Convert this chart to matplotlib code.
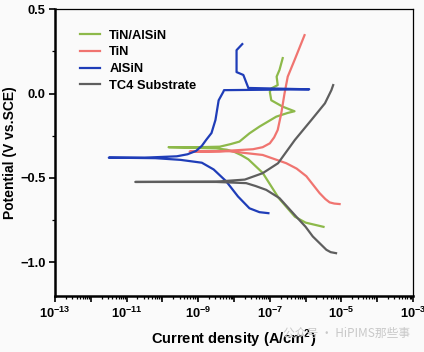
import matplotlib
matplotlib.use("Agg")
import matplotlib.pyplot as plt
import matplotlib.ticker as mticker
import numpy as np

plt.rcParams['font.family'] = ['Liberation Sans', 'DejaVu Sans']
plt.rcParams['mathtext.fontset'] = 'custom'
plt.rcParams['mathtext.rm'] = 'Liberation Sans'
plt.rcParams['mathtext.bf'] = 'Liberation Sans:bold'

# log10 of current density (A/cm^2) and potential (V vs SCE)
labels = ["TiN/AlSiN", "TiN", "AlSiN", "TC4 Substrate"]
colors = ["#8DB94A", "#F07470", "#1F3DB8", "#5E5E5E"]

tin_alsin_logi = [-5.5, -6.0, -6.3, -6.75, -7.2, -7.6, -7.8, -8.0, -8.2, -8.5, -9.83,
                  -9.0, -8.4, -8.1, -7.85, -7.57, -7.29, -6.82, -6.5, -6.31, -6.64,
                  -6.96, -7.0, -6.96, -6.78, -6.81, -6.73, -6.64]
tin_alsin_e = [-0.79, -0.765, -0.73, -0.62, -0.47, -0.39, -0.365, -0.345, -0.333, -0.325, -0.318,
               -0.318, -0.315, -0.30, -0.285, -0.236, -0.196, -0.137, -0.115, -0.105, -0.078,
               -0.04, 0.01, 0.03, 0.05, 0.10, 0.14, 0.21]

tin_logi = [-5.05, -5.2, -5.33, -5.45, -5.61, -5.98, -6.25, -6.54, -7.2, -8.13, -9.24,
            -8.4, -7.47, -7.2, -7.0, -6.88, -6.78, -6.68, -6.59, -6.5, -6.31, -6.03]
tin_e = [-0.655, -0.652, -0.645, -0.625, -0.59, -0.49, -0.445, -0.413, -0.364, -0.342, -0.344,
         -0.342, -0.33, -0.318, -0.295, -0.26, -0.216, -0.117, 0.0, 0.10, 0.198, 0.346]

alsin_logi = [-7.04, -7.29, -7.57, -7.89, -8.22, -8.57, -8.9, -9.5, -10.2, -11.5,
              -10.5, -9.6, -9.3, -9.06, -8.9, -8.78, -8.63, -8.52, -8.43, -8.30, -8.28,
              -5.9, -7.6, -7.74, -7.93, -7.93, -7.77]
alsin_e = [-0.709, -0.703, -0.68, -0.61, -0.52, -0.45, -0.41, -0.393, -0.383, -0.38,
           -0.38, -0.372, -0.36, -0.34, -0.31, -0.275, -0.234, -0.157, -0.04, 0.01, 0.02,
           0.025, 0.033, 0.11, 0.127, 0.257, 0.293]

tc4_logi = [-5.15, -5.3, -5.42, -5.8, -6.0, -6.26, -6.73, -7.1, -7.4, -7.66, -8.5, -10.76,
            -8.5, -7.7, -7.2, -6.77, -6.3, -5.84, -5.46, -5.28, -5.23]
tc4_e = [-0.946, -0.94, -0.926, -0.847, -0.79, -0.73, -0.62, -0.571, -0.548, -0.531, -0.524, -0.524,
         -0.522, -0.51, -0.472, -0.413, -0.275, -0.157, -0.058, 0.02, 0.05]

series = [(tin_alsin_logi, tin_alsin_e), (tin_logi, tin_e),
          (alsin_logi, alsin_e), (tc4_logi, tc4_e)]

fig = plt.figure(figsize=(4.24, 3.52), dpi=100, facecolor="#FAFAFA")
ax = fig.add_axes([0.130, 0.159, 0.844, 0.815])
ax.set_facecolor("#FAFAFA")

for (li, e), lab, col in zip(series, labels, colors):
    ax.plot(10.0 ** np.array(li), e, color=col, lw=1.6, label=lab,
            solid_joinstyle="round")

ax.set_xscale("log")
ax.set_xlim(1e-13, 1e-3)
ax.set_ylim(-1.2, 0.5)

decades = np.arange(-13, -2)
ax.xaxis.set_major_locator(mticker.FixedLocator(10.0 ** decades))
ax.xaxis.set_major_formatter(mticker.FixedFormatter(
    [r"$\mathbf{10^{%d}}$" % d if d % 2 != 0 else "" for d in decades]))
ax.xaxis.set_minor_locator(mticker.LogLocator(base=10, subs=np.arange(2, 10), numticks=50))
ax.xaxis.set_minor_formatter(mticker.NullFormatter())

ax.yaxis.set_major_locator(mticker.MultipleLocator(0.5))
ax.yaxis.set_minor_locator(mticker.MultipleLocator(0.25))
ax.yaxis.set_major_formatter(mticker.FuncFormatter(
    lambda v, p: ("%.1f" % v).replace("-", "\u2212")))

ax.tick_params(which="major", direction="out", length=4, width=1.2,
               labelsize=9.3, top=False, right=False, pad=3)
ax.tick_params(which="minor", direction="out", length=2, width=0.9)
for t in ax.get_yticklabels():
    t.set_fontweight("bold")

ax.spines["left"].set_linewidth(1.8)
ax.spines["bottom"].set_linewidth(1.8)
ax.spines["top"].set_linewidth(0.9)
ax.spines["right"].set_linewidth(0.9)

ax.set_xlabel(r"Current density (A/cm$^\mathbf{2}$)", fontsize=10.5, fontweight="bold", labelpad=5)
ax.set_ylabel("Potential (V vs.SCE)", fontsize=10, fontweight="bold", labelpad=2)

ax.legend(loc="upper left", bbox_to_anchor=(0.036, 0.969), frameon=False,
          handlelength=1.6, handletextpad=0.7, labelspacing=0.36,
          prop={"weight": "bold", "size": 9.3})

fig.text(0.667, 0.054, "公众号 · HiPIMS那些事", color="#C8C8C8", fontsize=8.5,
         va="center", family=["Noto Sans CJK SC", "DejaVu Sans"])

fig.savefig("out.png", dpi=100, facecolor=fig.get_facecolor())
